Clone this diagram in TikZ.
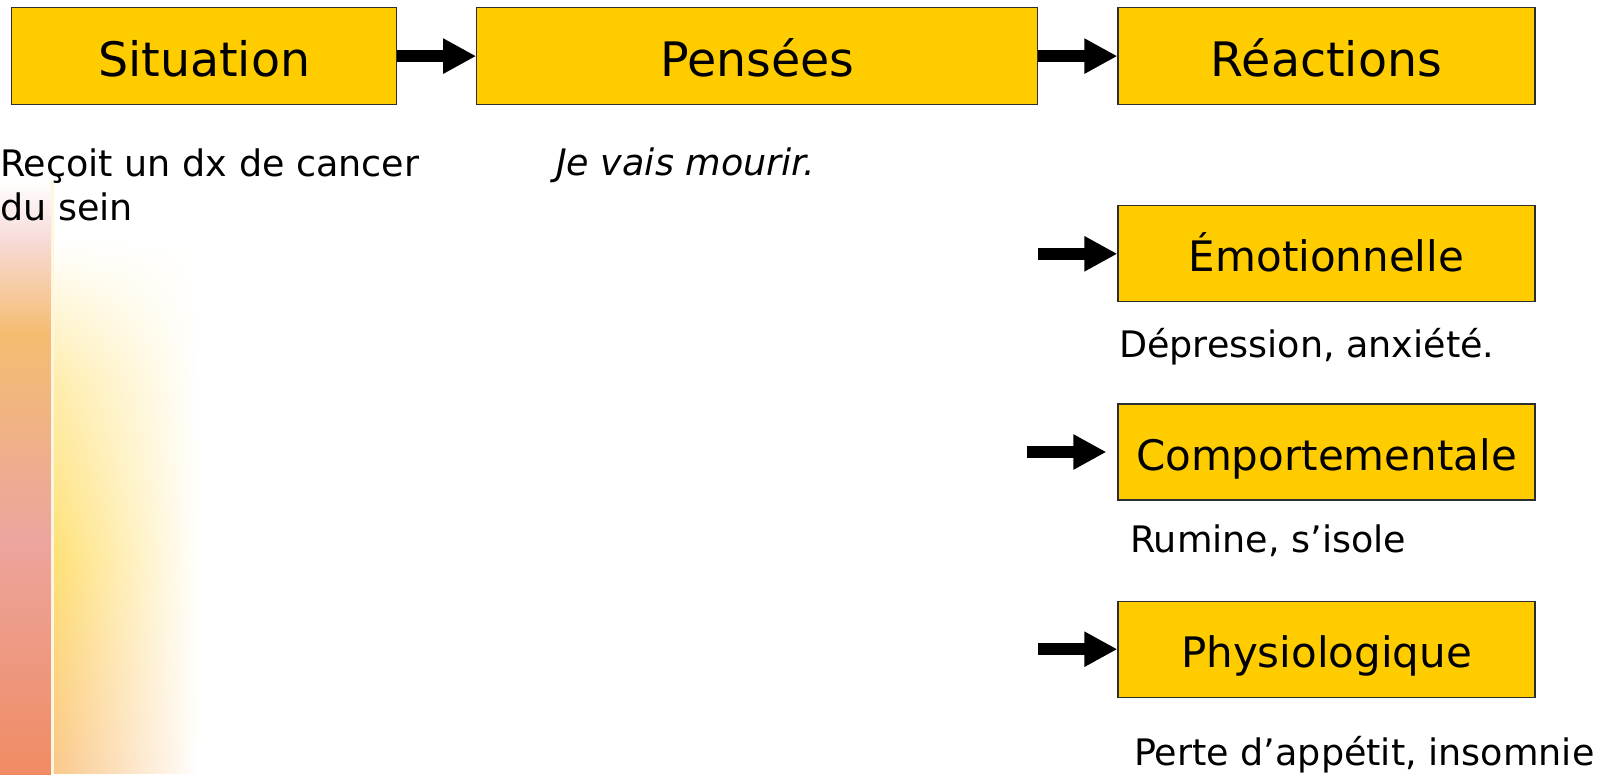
\documentclass[tikz,border=0pt]{standalone}
\usepackage{fontspec}
\setmainfont{DejaVu Sans}
\usetikzlibrary{arrows.meta, positioning, fadings}
\definecolor{boxgold}{RGB}{255,204,0}
\definecolor{boxline}{RGB}{45,45,45}
\definecolor{glowsalmon}{RGB}{240,140,100}
\definecolor{glowpink}{RGB}{236,165,158}
\definecolor{gloworange}{RGB}{245,188,112}
\definecolor{glowyellow}{RGB}{255,224,118}
\definecolor{glowpeach}{RGB}{250,200,140}
\definecolor{linecream}{RGB}{255,246,222}
\pgfdeclareverticalshading{stripshade}{100bp}{color(0bp)=(glowsalmon); color(25bp)=(glowsalmon); color(45bp)=(glowpink); color(62bp)=(gloworange); color(70bp)=(glowpink!40); color(75bp)=(white); color(100bp)=(white)}
\pgfdeclareverticalshading{glowshade}{100bp}{color(0bp)=(glowpeach); color(25bp)=(glowpeach); color(45bp)=(glowyellow); color(62bp)=(glowyellow!60); color(75bp)=(white); color(100bp)=(white)}
\tikzfading[name=glowfade, left color=transparent!0, middle color=transparent!35, right color=transparent!100]

\begin{document}
\begin{tikzpicture}[x=1pt, y=-1pt,
    node distance=79pt,
    box/.style={rectangle, draw=boxline, line width=1.2pt, fill=boxgold, minimum height=97pt, inner sep=0pt, font=\fontsize{47.5}{57}\selectfont, text height=40pt, text depth=0pt},
    subbox/.style={box, minimum width=417pt, minimum height=96pt, font=\fontsize{42}{50}\selectfont, text height=36pt},
    note/.style={anchor=base west, inner sep=0pt, align=left, font=\fontsize{36.5}{44}\selectfont},
    arrow/.style={-{Triangle[length=33pt, width=33pt]}, line width=11.5pt}
  ]
  \useasboundingbox (0,0) rectangle (1619,774);
  \shade[shading=stripshade] (0,180) rectangle (51,774);
  \shade[shading=glowshade, path fading=glowfade] (54,240) rectangle (200,774);
  \fill[linecream] (51,180) rectangle (54,774);

  \node[box, minimum width=385pt, anchor=north west] (situation) at (11,7) {Situation};
  \node[box, minimum width=561pt, right=of situation] (pensees) {Pensées};
  \node[box, minimum width=417pt, right=of pensees] (reactions) {Réactions};
  \node[subbox, below=100pt of reactions] (emotion) {Émotionnelle};
  \node[subbox, below=101pt of emotion] (comport) {Comportementale};
  \node[subbox, below=100pt of comport] (physio) {Physiologique};

  \coordinate[left=79pt of emotion.west] (emotail);
  \coordinate[left=90pt of comport.west] (comptail);
  \coordinate[left=79pt of physio.west] (physiotail);

  \draw[arrow] (situation) -- (pensees);
  \draw[arrow] (pensees) -- (reactions);
  \draw[arrow] (emotail) -- (emotion);
  \draw[arrow, shorten >=11pt] (comptail) -- (comport);
  \draw[arrow] (physiotail) -- (physio);

  \node[note] (situnote) at (0,220) {Reçoit un dx de cancer\\du sein};
  \node[note] (pensnote) at (556,175) {\itshape Je vais mourir.};
  \node[note] (emonote) at (1119,357) {Dépression, anxiété.};
  \node[note] (compnote) at (1130,552) {Rumine, s’isole};
  \node[note] (physnote) at (1134,765) {Perte d’appétit, insomnie};
\end{tikzpicture}
\end{document}
